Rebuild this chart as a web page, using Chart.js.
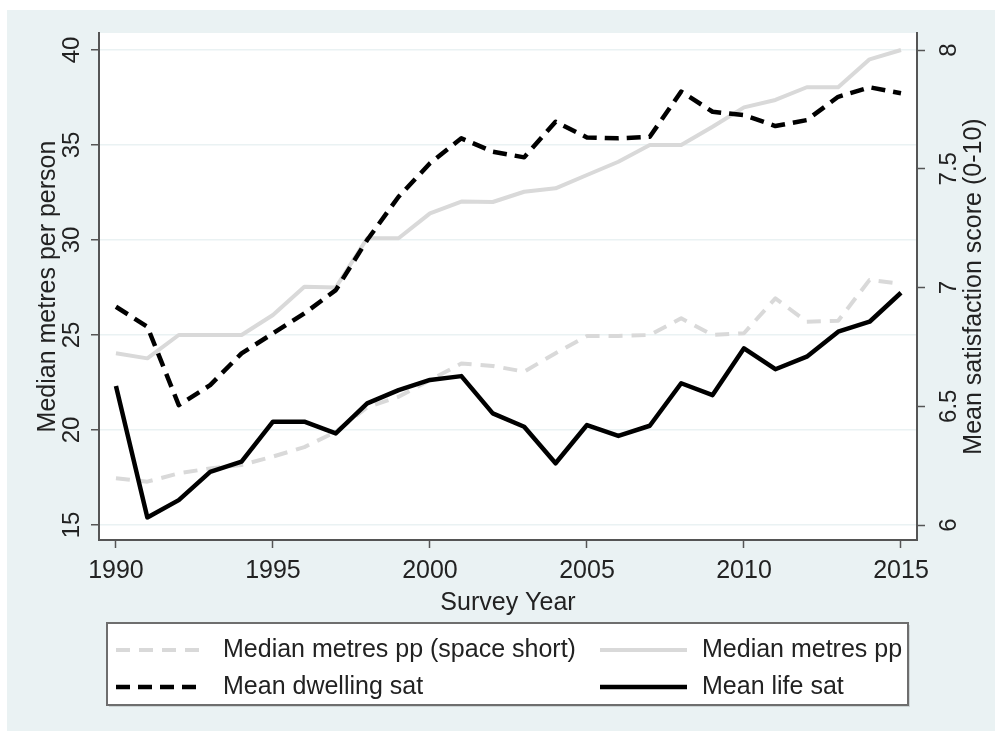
<!DOCTYPE html>
<html>
<head>
<meta charset="utf-8">
<title>Space per person and satisfaction</title>
<script src="https://cdn.jsdelivr.net/npm/chart.js@4.4.1/dist/chart.umd.min.js"></script>
<style>
    html, body { margin: 0; padding: 0; background: #ffffff; }
    #chart { display: block; }
</style>
</head>
<body>
<canvas id="chart" width="995" height="731"></canvas>
<script>
// Survey years on the x axis
const years = [1990, 1991, 1992, 1993, 1994, 1995, 1996, 1997, 1998, 1999, 2000, 2001, 2002,
    2003, 2004, 2005, 2006, 2007, 2008, 2009, 2010, 2011, 2012, 2013, 2014, 2015];

// Median square metres per person, households short of space (left axis)
const spaceShort = [17.46, 17.28, 17.72, 17.98, 18.16, 18.6, 19.1, 19.9, 21.2, 21.75, 22.63, 23.5, 23.37,
    23.07, 24.04, 24.95, 24.95, 25.0, 25.88, 25.0, 25.09, 26.93, 25.7, 25.75, 27.9, 27.7];
// Median square metres per person, all households (left axis)
const medianPP = [24.04, 23.77, 25.0, 25.0, 25.0, 26.05, 27.54, 27.5, 30.09, 30.09, 31.4, 32.02, 32.0,
    32.54, 32.72, 33.42, 34.12, 35.0, 35.0, 35.96, 36.98, 37.37, 38.04, 38.04, 39.51, 40.0];
// Mean dwelling satisfaction, 0-10 (right axis)
const dwellingSat = [6.919, 6.835, 6.505, 6.589, 6.723, 6.807, 6.891, 6.989, 7.2, 7.382, 7.523, 7.628, 7.572,
    7.548, 7.698, 7.632, 7.628, 7.635, 7.825, 7.74, 7.726, 7.68, 7.705, 7.803, 7.843, 7.818];
// Mean life satisfaction, 0-10 (right axis)
const lifeSat = [6.585, 6.032, 6.105, 6.224, 6.267, 6.435, 6.435, 6.386, 6.512, 6.568, 6.611, 6.627, 6.47,
    6.414, 6.26, 6.421, 6.375, 6.418, 6.597, 6.547, 6.744, 6.656, 6.709, 6.814, 6.856, 6.978];

// Tick labels
const yearTicks = [1990, 1995, 2000, 2005, 2010, 2015];
const metreTicks = [15, 20, 25, 30, 35, 40];
const satTicks = [6, 6.5, 7, 7.5, 8];

// Legend entries (label, colour, dashed?)
const legendLabels = ['Median metres pp (space short)', 'Median metres pp', 'Mean dwelling sat', 'Mean life sat'];

const FONT = '"Liberation Sans", Arial, Helvetica, sans-serif';
const TEXT_COLOR = '#222222';
const AXIS_COLOR = '#555555';
const GREY = '#d9d9d9';

// Pair up the years with each series
function toPoints(values) {
    return years.map((year, i) => ({ x: year, y: values[i] }));
}

// Page frame, light blue region and white plot area
const backgroundPlugin = {
    id: 'background',
    beforeDraw(chart) {
        const { ctx, chartArea, width, height } = chart;
        ctx.save();
        ctx.fillStyle = '#ffffff';
        ctx.fillRect(0, 0, width, height);
        ctx.fillStyle = '#eaf2f3';
        ctx.fillRect(7, 10, width - 7, height - 10);
        ctx.fillStyle = '#ffffff';
        ctx.fillRect(chartArea.left, chartArea.top, chartArea.right - chartArea.left, chartArea.bottom - chartArea.top);
        ctx.restore();
    }
};

// Right axis title reads bottom to top, like the left one
const rightTitlePlugin = {
    id: 'rightTitle',
    afterDraw(chart) {
        const { ctx, chartArea } = chart;
        ctx.save();
        ctx.translate(974, (chartArea.top + chartArea.bottom) / 2);
        ctx.rotate(-Math.PI / 2);
        ctx.font = '25px ' + FONT;
        ctx.fillStyle = TEXT_COLOR;
        ctx.textAlign = 'center';
        ctx.textBaseline = 'middle';
        ctx.fillText('Mean satisfaction score (0-10)', 0, 0);
        ctx.restore();
    }
};

// Boxed two-column legend under the plot
const boxLegendPlugin = {
    id: 'boxLegend',
    afterDraw(chart) {
        const { ctx } = chart;
        const box = { left: 107, top: 623, right: 908, bottom: 705 };
        ctx.save();
        // soft shadow then white box with grey border
        ctx.fillStyle = 'rgba(0,0,0,0.12)';
        ctx.fillRect(box.left + 2, box.top + 2, box.right - box.left, box.bottom - box.top);
        ctx.fillStyle = '#ffffff';
        ctx.fillRect(box.left, box.top, box.right - box.left, box.bottom - box.top);
        ctx.strokeStyle = '#6e6e6e';
        ctx.lineWidth = 2;
        ctx.strokeRect(box.left, box.top, box.right - box.left, box.bottom - box.top);

        const rows = [650, 687];
        const cols = [{ x0: 116, x1: 200, tx: 223 }, { x0: 600, x1: 687, tx: 702 }];
        chart.data.datasets.forEach((ds, i) => {
            const col = cols[i % 2];
            const y = rows[Math.floor(i / 2)];
            ctx.beginPath();
            ctx.setLineDash(ds.borderDash || []);
            ctx.lineCap = 'butt';
            ctx.strokeStyle = ds.borderColor;
            ctx.lineWidth = ds.borderWidth;
            ctx.moveTo(col.x0, y);
            ctx.lineTo(col.x1, y);
            ctx.stroke();
            ctx.setLineDash([]);
            ctx.font = '25px ' + FONT;
            ctx.fillStyle = TEXT_COLOR;
            ctx.textAlign = 'left';
            ctx.textBaseline = 'middle';
            ctx.fillText(ds.label, col.tx, y);
        });
        ctx.restore();
    }
};

const ctx = document.getElementById('chart').getContext('2d');

const chart = new Chart(ctx, {
    type: 'line',
    plugins: [backgroundPlugin, rightTitlePlugin, boxLegendPlugin],
    data: {
        datasets: [
            {
                label: legendLabels[0],
                data: toPoints(spaceShort),
                yAxisID: 'y',
                borderColor: GREY,
                borderWidth: 4,
                borderDash: [14, 9],
                order: 2,
            },
            {
                label: legendLabels[1],
                data: toPoints(medianPP),
                yAxisID: 'y',
                borderColor: GREY,
                borderWidth: 4,
                order: 2,
            },
            {
                label: legendLabels[2],
                data: toPoints(dwellingSat),
                yAxisID: 'y2',
                borderColor: '#000000',
                borderWidth: 4.5,
                borderDash: [14, 8],
                order: 1,
            },
            {
                label: legendLabels[3],
                data: toPoints(lifeSat),
                yAxisID: 'y2',
                borderColor: '#000000',
                borderWidth: 4.5,
                order: 1,
            },
        ],
    },
    options: {
        responsive: false,
        animation: false,
        events: [],
        layout: { padding: { top: 33, bottom: 113, left: 0, right: 0 } },
        elements: {
            point: { radius: 0 },
            line: { tension: 0, borderJoinStyle: 'round', borderCapStyle: 'butt' },
        },
        plugins: {
            legend: { display: false },
            tooltip: { enabled: false },
        },
        scales: {
            x: {
                type: 'linear',
                position: 'bottom',
                min: 1989.46,
                max: 2015.51,
                afterBuildTicks: (scale) => { scale.ticks = yearTicks.map(v => ({ value: v })); },
                afterFit: (scale) => { scale.height = 78; },
                grid: { drawOnChartArea: false, tickColor: AXIS_COLOR, tickLength: 8, tickWidth: 1.5 },
                border: { color: AXIS_COLOR, width: 2 },
                ticks: {
                    autoSkip: false,
                    maxRotation: 0,
                    padding: 8,
                    color: TEXT_COLOR,
                    font: { family: FONT, size: 25 },
                    callback: (v) => String(v),
                },
                title: {
                    display: true,
                    text: 'Survey Year',
                    color: TEXT_COLOR,
                    font: { family: FONT, size: 25 },
                    padding: { top: 0, bottom: 0 },
                },
            },
            y: {
                type: 'linear',
                position: 'left',
                min: 14.21,
                max: 40.895,
                afterBuildTicks: (scale) => { scale.ticks = metreTicks.map(v => ({ value: v })); },
                afterFit: (scale) => { scale.width = 99; },
                grid: { color: '#eaf2f3', lineWidth: 1.5, tickColor: AXIS_COLOR, tickLength: 8, tickWidth: 1.5 },
                border: { color: AXIS_COLOR, width: 2 },
                ticks: {
                    autoSkip: false,
                    minRotation: 90,
                    maxRotation: 90,
                    crossAlign: 'center',
                    padding: 5,
                    color: TEXT_COLOR,
                    font: { family: FONT, size: 24 },
                    callback: (v) => String(v),
                },
                title: {
                    display: true,
                    text: 'Median metres per person',
                    color: TEXT_COLOR,
                    font: { family: FONT, size: 25 },
                    padding: { top: 33, bottom: 0 },
                },
            },
            y2: {
                type: 'linear',
                position: 'right',
                min: 5.937,
                max: 8.0716,
                afterBuildTicks: (scale) => { scale.ticks = satTicks.map(v => ({ value: v })); },
                afterFit: (scale) => { scale.width = 78; },
                grid: { drawOnChartArea: false, tickColor: AXIS_COLOR, tickLength: 8, tickWidth: 1.5 },
                border: { color: AXIS_COLOR, width: 2 },
                ticks: {
                    autoSkip: false,
                    minRotation: 90,
                    maxRotation: 90,
                    crossAlign: 'center',
                    padding: 8,
                    color: TEXT_COLOR,
                    font: { family: FONT, size: 24 },
                    callback: (v) => String(v),
                },
            },
        },
    },
});
</script>
</body>
</html>
